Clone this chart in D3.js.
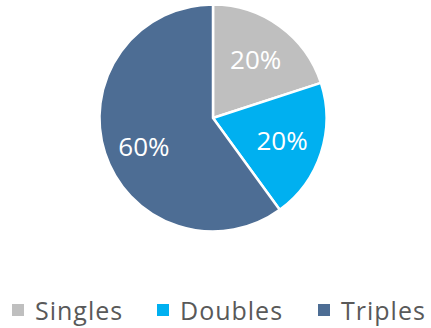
<!DOCTYPE html>
<html>
<head>
<meta charset="utf-8">
<script src="https://cdn.jsdelivr.net/npm/d3@7"></script>
<style>
  html, body { margin: 0; padding: 0; background: #fff; }
  svg { display: block; font-family: "Open Sans", "Noto Sans", sans-serif; }
</style>
</head>
<body>
<svg id="chart" width="431" height="328"></svg>
<script>
const categories = ["Singles", "Doubles", "Triples"];
const values = [20, 20, 60];
const colors = ["#BFBFBF", "#00B0F0", "#4D6D94"];

const svg = d3.select("#chart");
const cx = 213, cy = 118, R = 113.5;

const pie = d3.pie().sort(null).value(d => d.value);
const data = pie(categories.map((c, i) => ({ name: c, value: values[i], color: colors[i] })));
const arc = d3.arc().innerRadius(0).outerRadius(R);
const labelArc = d3.arc().innerRadius(R * 0.64).outerRadius(R * 0.64);
const total = d3.sum(values);

const g = svg.append("g").attr("transform", `translate(${cx},${cy})`);
g.selectAll("path").data(data).join("path")
  .attr("d", arc)
  .attr("fill", d => d.data.color)
  .attr("stroke", "#fff")
  .attr("stroke-width", 2.5)
  .attr("stroke-linejoin", "round");

g.selectAll("text").data(data).join("text")
  .attr("transform", d => {
    const [x, y] = labelArc.centroid(d);
    return `translate(${x},${y + (d.index === 2 ? 6 : 0)})`;
  })
  .attr("text-anchor", "middle")
  .attr("dominant-baseline", "central")
  .attr("fill", "#fff")
  .attr("font-size", 26)
  .text(d => Math.round(d.data.value / total * 100) + "%");

// Legend along the bottom
const legendX = [12, 157, 318];
const legend = svg.append("g").attr("transform", "translate(0,310)");
const items = legend.selectAll("g").data(categories).join("g")
  .attr("transform", (d, i) => `translate(${legendX[i]},0)`);
items.append("rect")
  .attr("x", 0).attr("y", -6).attr("width", 12).attr("height", 12)
  .attr("fill", (d, i) => colors[i]);
items.append("text")
  .attr("x", 23).attr("y", 0)
  .attr("dominant-baseline", "central")
  .attr("fill", "#595959")
  .attr("font-size", 25)
  .attr("letter-spacing", 1)
  .text(d => d);
</script>
</body>
</html>
